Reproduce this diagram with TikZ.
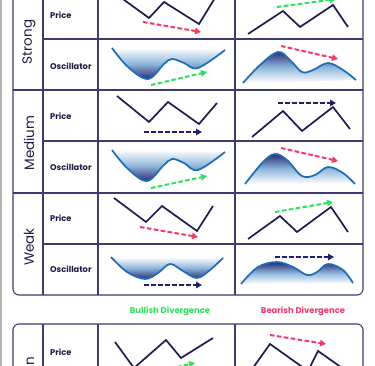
\documentclass[tikz,border=0pt]{standalone}
\usepackage{fontspec}
\setmainfont{Poppins}
\usetikzlibrary{arrows.meta}
\definecolor{tb}{HTML}{3E3A72}
\definecolor{pl}{HTML}{1E1C50}
\definecolor{oc}{HTML}{1C6DB6}
\definecolor{gn}{HTML}{2EE05C}
\definecolor{pk}{HTML}{F03A6C}
\definecolor{nv}{HTML}{232063}
\definecolor{dk}{HTML}{2A2870}
\definecolor{txt}{HTML}{1E1C44}
\begin{document}
\begin{tikzpicture}[x=1pt,y=-1pt,
  tbl/.style={draw=tb,line width=1.1pt},
  pline/.style={draw=pl,line width=1.7pt,line join=miter},
  osc/.style={draw=oc,line width=1.7pt},
  darr/.style={line width=2pt,dash pattern=on 4.5pt off 2.5pt,-{Triangle[length=6pt,width=6.5pt]}},
  garr/.style={darr,draw=gn,fill=gn},
  parr/.style={darr,draw=pk,fill=pk},
  narr/.style={darr,draw=nv,fill=nv},
  lbl/.style={font=\fontsize{8.3}{9}\selectfont\bfseries,text=txt,anchor=west,inner sep=0pt},
  grp/.style={font=\fontsize{13.5}{15}\selectfont,text=txt,rotate=90,inner sep=0pt},
  bullsh/.style={top color=white,bottom color=dk,middle color=oc!50!white},
  bearsh/.style={bottom color=white,top color=dk,middle color=oc!50!white},
  leg/.style={font=\fontsize{8.4}{9}\selectfont\bfseries,inner sep=0pt}]
\useasboundingbox (0,0) rectangle (375,366);
\fill[white] (0,0) rectangle (375,366);
\draw[gray!60,line width=1.5pt] (1,0) -- (1,366);

% ---------- table 1 ----------
\draw[tbl,rounded corners=6pt] (13,-20) rectangle (363,295);
\foreach \x in {43,98,235} \draw[tbl] (\x,-20) -- (\x,295);
\foreach \y in {90,193} \draw[tbl] (13,\y) -- (363,\y);
\foreach \y in {39,141,244} \draw[tbl] (43,\y) -- (363,\y);

\node[grp] (gs) at (29,42) {Strong};
\node[grp] (gm) at (29,143) {Medium};
\node[grp] (gw) at (29,247) {Weak};
\node[lbl] (p1) at (50,15) {Price};
\node[lbl] (o1) at (50,66) {Oscillator};
\node[lbl] (p2) at (50,116) {Price};
\node[lbl] (o2) at (50,167) {Oscillator};
\node[lbl] (p3) at (50,218) {Price};
\node[lbl] (o3) at (50,269) {Oscillator};

% Strong
\draw[pline] (116,-6) -- (149,18) -- (164,2) -- (199,24) -- (215,-2);
\draw[parr] (143,22) -- (201,32);
\draw[pline] (248,34) -- (283,11) -- (300,27) -- (333,5) -- (348,27);
\draw[garr] (277,7) -- (336,-1);
\shade[bullsh] plot[smooth,tension=0.6] coordinates {(112,48) (128,67) (148,79) (164,64) (172,59) (184,63) (198,68) (225,50)} -- cycle;
\draw[osc] plot[smooth,tension=0.6] coordinates {(112,48) (128,67) (148,79) (164,64) (172,59) (184,63) (198,68) (225,50)};
\draw[garr] (151,85) -- (207,72);
\shade[bearsh] plot[smooth,tension=0.6] coordinates {(243,83) (260,65) (278,52) (290,60) (302,72) (313,70) (328,63) (343,70) (356,80)} -- cycle;
\draw[osc] plot[smooth,tension=0.6] coordinates {(243,83) (260,65) (278,52) (290,60) (302,72) (313,70) (328,63) (343,70) (356,80)};
\draw[parr] (281,46) -- (338,59);

% Medium
\draw[pline] (117,96) -- (149,122) -- (168,102) -- (199,124) -- (217,103);
\draw[narr] (144,132) -- (202,132);
\draw[pline] (252,137) -- (283,111) -- (302,131) -- (333,107) -- (350,129);
\draw[narr] (278,103) -- (336,103);
\shade[bullsh] plot[smooth,tension=0.6] coordinates {(112,150) (128,169) (147,181) (163,166) (172,159) (184,163) (198,170) (225,152)} -- cycle;
\draw[osc] plot[smooth,tension=0.6] coordinates {(112,150) (128,169) (147,181) (163,166) (172,159) (184,163) (198,170) (225,152)};
\draw[garr] (151,188) -- (207,176);
\shade[bearsh] plot[smooth,tension=0.6] coordinates {(245,184) (263,162) (275,154) (287,160) (302,176) (315,175) (328,167) (343,173) (355,184)} -- cycle;
\draw[osc] plot[smooth,tension=0.6] coordinates {(245,184) (263,162) (275,154) (287,160) (302,176) (315,175) (328,167) (343,173) (355,184)};
\draw[parr] (281,148) -- (338,161);

% Weak
\draw[pline] (114,198) -- (146,222) -- (162,206) -- (197,231) -- (213,206);
\draw[parr] (140,227) -- (198,237);
\draw[pline] (248,239) -- (280,216) -- (297,232) -- (331,207) -- (348,232);
\draw[garr] (275,212) -- (333,202);
\shade[bullsh] plot[smooth,tension=0.6] coordinates {(111,257) (127,272) (145,279) (158,273) (170,264) (183,271) (197,278) (210,270) (223,258)} -- cycle;
\draw[osc] plot[smooth,tension=0.6] coordinates {(111,257) (127,272) (145,279) (158,273) (170,264) (183,271) (197,278) (210,270) (223,258)};
\draw[narr] (144,285) -- (202,285);
\shade[bearsh] plot[smooth,tension=0.6] coordinates {(241,284) (258,267) (277,262) (293,267) (307,275) (317,272) (328,264) (343,270) (353,283)} -- cycle;
\draw[osc] plot[smooth,tension=0.6] coordinates {(241,284) (258,267) (277,262) (293,267) (307,275) (317,272) (328,264) (343,270) (353,283)};
\draw[narr] (275,257) -- (334,257);

% legend
\node[leg,text=gn] (lb) at (170,311) {Bullish Divergence};
\node[leg,text=pk] (lr) at (303,311) {Bearish Divergence};

% ---------- table 2 ----------
\draw[tbl,rounded corners=6pt] (13,324) rectangle (363,420);
\foreach \x in {43,98,235} \draw[tbl] (\x,324) -- (\x,420);
\node[grp,anchor=east] (gh) at (29,357) {Hidden};
\node[lbl] (p4) at (50,352) {Price};
\draw[pline] (115,342) -- (134,368) -- (166,340) -- (181,358) -- (213,338);
\draw[garr] (136,376) -- (195,363);
\draw[pline] (250,372) -- (270,344) -- (308,371) -- (318,351) -- (345,370);
\draw[parr] (270,335) -- (326,344);
\end{tikzpicture}
\end{document}
